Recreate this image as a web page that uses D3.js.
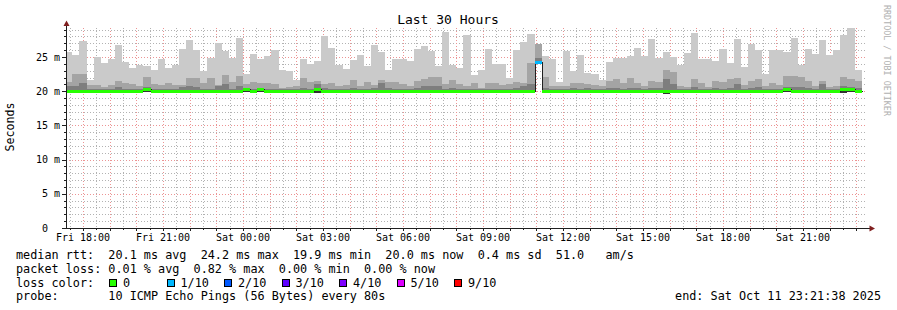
<!DOCTYPE html>
<html><head><meta charset="utf-8">
<script src="https://cdn.jsdelivr.net/npm/d3@7/dist/d3.min.js"></script>
<style>
html,body{margin:0;padding:0;background:#fff;}
svg{display:block;}
text{font-family:"DejaVu Sans Mono",monospace;fill:#000;white-space:pre;}
</style></head><body>
<svg id="chart" width="897" height="310"></svg>
<script>
// ---------------- data ----------------
const title = "Last 30 Hours";
const yAxisTitle = "Seconds";
const watermark = "RRDTOOL / TOBI OETIKER";
const startTime = Date.UTC(2025, 9, 10, 17, 21, 38);   // Fri 17:21:38
const endTime   = Date.UTC(2025, 9, 11, 23, 21, 38);   // Sat 23:21:38
const firstBin  = Date.UTC(2025, 9, 10, 17, 20, 0);    // first 16-minute bin
const binMinutes = 16;
const yMaxMs = 29.24;
const yTickValues = [0, 5, 10, 15, 20, 25];
const yTickLabels = ["0  ", "5 m", "10 m", "15 m", "20 m", "25 m"];
const dayNames = ["Sun","Mon","Tue","Wed","Thu","Fri","Sat"];

// per-bin ping statistics (ms), sorted-ping percentiles
const maxRtt = [25.7,25.25,27.3,21.6,25.05,24.15,24.7,26.75,24.3,23.4,
 23.8,23.7,23.1,24.7,23.4,23.85,26.2,27.5,26.0,23.0,
 24.9,27.1,25.9,24.85,27.8,22.5,25.4,24.7,25.2,26.0,
 23.1,23.0,21.6,24.7,24.0,24.4,28.1,26.3,23.8,23.25,
 24.55,25.3,23.7,26.75,25.75,23.1,24.7,24.7,24.4,26.2,
 26.6,25.9,23.7,28.65,23.8,23.4,28.2,22.35,23.1,26.2,
 24.0,24.0,21.9,26.0,27.2,28.35,null,25.15,24.7,21.3,
 25.9,22.95,25.3,22.65,22.5,21.7,24.25,24.8,24.8,25.15,
 26.3,25.15,27.6,24.8,25.75,25.0,23.8,25.6,28.5,24.7,
 24.7,24.4,26.2,24.15,27.6,23.55,26.9,26.0,22.5,26.0,
 26.0,25.75,27.8,23.8,26.2,25.4,27.5,25.3,26.0,28.2,29.2,23.1];
const ping9 = [21.35,22.5,22.5,20.9,20.9,20.6,20.9,21.5,21.2,21.05,
 20.75,22.05,21.05,20.9,21.2,20.9,20.9,21.9,21.9,21.2,
 21.95,20.9,22.35,21.35,22.2,21.05,21.35,21.2,21.2,21.05,
 20.45,20.6,20.75,21.9,21.35,21.5,21.05,21.2,20.75,20.9,
 21.65,20.75,21.35,20.9,21.65,21.35,21.35,21.05,20.75,21.5,
 21.8,22.05,22.05,21.05,21.65,21.05,20.75,21.2,20.45,21.2,
 21.2,20.9,21.05,21.35,21.2,24.1,26.9,22.05,20.75,20.75,
 20.75,21.2,21.2,21.05,20.9,20.75,21.5,21.8,21.2,21.9,
 21.2,20.75,21.5,21.35,23.1,22.8,20.75,20.6,21.8,21.2,
 20.6,21.5,21.35,21.8,21.9,20.9,21.5,21.8,20.75,21.2,
 20.9,22.2,22.2,22.05,21.5,20.75,21.5,20.6,20.75,22.05,21.8,21.5];
const ping8 = [20.75,20.75,21.2,20.3,20.3,20.3,20.3,20.6,20.3,20.3,
 20.3,20.6,20.3,20.3,20.3,20.3,20.6,20.75,20.6,20.3,
 20.3,20.75,21.05,20.3,20.75,20.3,20.3,20.3,20.3,20.3,
 20.3,20.3,20.3,20.4,20.3,21.0,20.4,20.3,20.3,20.3,
 20.4,20.3,20.3,20.4,21.2,20.4,20.3,20.3,20.3,20.4,
 20.75,20.75,20.75,20.3,20.4,20.3,20.3,20.3,20.3,20.3,
 20.3,20.3,20.3,20.4,20.75,21.0,24.8,20.4,20.3,20.3,
 20.3,20.4,20.3,20.4,20.3,20.3,20.4,20.4,20.3,20.4,
 20.4,20.3,20.4,20.4,21.8,21.05,20.3,20.3,20.6,20.3,
 20.3,20.4,20.3,20.4,21.05,20.3,20.4,20.6,20.3,20.3,
 20.3,20.6,20.6,20.6,20.4,20.3,21.05,20.3,20.3,20.75,20.6,20.4];
const medianRtt = [20.1,20.1,20.1,20.1,20.1,20.1,20.1,20.1,20.1,20.1,
 20.1,20.35,20.1,20.1,20.1,20.1,20.1,20.1,20.1,20.1,
 20.1,20.1,20.1,20.1,20.1,20.35,20.1,20.35,20.1,20.1,
 20.1,20.1,20.1,20.1,20.1,20.35,20.1,20.1,20.1,20.1,
 20.1,20.1,20.1,20.1,20.1,20.1,20.1,20.1,20.1,20.1,
 20.1,20.1,20.1,20.1,20.1,20.1,20.1,20.1,20.1,20.1,
 20.1,20.1,20.1,20.1,20.1,20.1,24.27,20.1,20.1,20.1,
 20.1,20.1,20.1,20.1,20.1,20.1,20.1,20.1,20.1,20.1,
 20.1,20.1,20.1,20.1,20.1,20.1,20.1,20.1,20.1,20.1,
 20.1,20.1,20.1,20.1,20.1,20.1,20.1,20.1,20.1,20.1,
 20.1,20.35,20.1,20.1,20.1,20.1,20.1,20.1,20.1,20.3,20.35,20.1];
const minRtt = [19.95,19.95,19.95,19.95,19.75,19.95,19.75,19.95,19.95,19.95,
 19.95,19.95,19.95,19.95,19.95,19.95,19.95,19.95,19.95,19.95,
 19.95,19.75,19.95,19.95,19.95,19.95,19.95,19.95,19.95,19.95,
 19.95,19.75,19.95,19.95,19.95,19.75,19.95,19.95,19.95,19.95,
 19.95,19.75,19.95,19.95,19.75,19.95,19.95,19.95,19.95,19.95,
 19.95,19.95,19.75,19.95,19.95,19.95,19.95,19.95,19.95,19.95,
 19.95,19.95,19.95,19.75,19.95,19.95,24.1,19.95,19.95,19.95,
 19.95,19.75,19.95,19.75,19.95,19.95,19.95,19.95,19.75,19.95,
 19.75,19.95,19.95,19.95,19.6,19.95,19.95,19.95,19.75,19.95,
 19.75,19.95,19.95,19.95,19.95,19.95,19.95,19.95,19.95,19.95,
 19.95,19.95,19.95,19.95,19.95,19.95,19.75,19.95,19.95,19.75,19.95,19.95];
const lostPings = [0,0,0,0,0,0,0,0,0,0, 0,0,0,0,0,0,0,0,0,0, 0,0,0,0,0,0,0,0,0,0,
 0,0,0,0,0,0,0,0,0,0, 0,0,0,0,0,0,0,0,0,0, 0,0,0,0,0,0,0,0,0,0,
 0,0,0,0,0,0,1,0,0,0, 0,0,0,0,0,0,0,0,0,0, 0,0,0,0,0,0,0,0,0,0,
 0,0,0,0,0,0,0,0,0,0, 0,0,0,0,0,0,0,0,0,0,0,0];

const lossLevels = [0, 1, 2, 3, 4, 5, 9];
const lossLabels = ["0", "1/10", "2/10", "3/10", "4/10", "5/10", "9/10"];
const lossColors = ["#26ff00", "#00b8ff", "#0059ff", "#5e00ff", "#7e00ff", "#dd00ff", "#ff0000"];
const smokeColors = ["#cacaca", "#a4a4a4", "#7e7e7e", "#323232"];

const legendLine1 = "median rtt:  20.1 ms avg  24.2 ms max  19.9 ms min  20.0 ms now  0.4 ms sd  51.0   am/s";
const legendLine2 = "packet loss: 0.01 % avg  0.82 % max  0.00 % min  0.00 % now";
const legendLine3 = "loss color:";
const legendLine4 = "probe:       10 ICMP Echo Pings (56 Bytes) every 80s";
const endLabel = "end: Sat Oct 11 23:21:38 2025";

// ---------------- drawing ----------------
const svg = d3.select("#chart");
const X0 = 66, X1 = 866, Y0 = 228, Y1 = 28;
const x = d3.scaleUtc().domain([startTime, endTime]).range([X0, X1]);
const y = d3.scaleLinear().domain([0, yMaxMs]).range([Y0, Y1]);
const GRID = "#b2b2b2", MGRID = "#ec9494", AXIS = "#1f1f1f", ARROW = "#801f1f";
const py = v => Math.round(y(v)) + 0.5;
const px = t => Math.round(x(t)) + 0.5;

svg.append("rect").attr("width", 897).attr("height", 310).attr("fill", "#fff");

// grid
const grid = svg.append("g").attr("shape-rendering", "crispEdges").attr("stroke-dasharray", "1,2").attr("fill", "none");
d3.range(1, Math.floor(yMaxMs) + 1).forEach(v => {
  grid.append("line").attr("x1", X0).attr("x2", X1).attr("y1", py(v)).attr("y2", py(v))
    .attr("stroke", v % 5 === 0 ? MGRID : GRID);
});
d3.utcMinute.every(30).range(new Date(startTime), new Date(endTime)).forEach(t => {
  const major = t.getUTCMinutes() === 0;
  grid.append("line").attr("x1", px(t)).attr("x2", px(t)).attr("y1", Y1).attr("y2", Y0)
    .attr("stroke", major ? MGRID : GRID);
});

// bins
const bins = maxRtt.map((m, k) => ({
  t0: new Date(firstBin + k * binMinutes * 60000),
  t1: new Date(firstBin + (k + 1) * binMinutes * 60000),
  p10: m, p9: ping9[k], p8: ping8[k], med: medianRtt[k], low: minRtt[k], loss: lostPings[k]
}));

svg.append("clipPath").attr("id", "plotclip").append("rect")
  .attr("x", X0).attr("y", Y1 - 2).attr("width", X1 - X0).attr("height", Y0 - Y1 + 2);
const plot = svg.append("g").attr("clip-path", "url(#plotclip)").attr("shape-rendering", "crispEdges");

const layers = [["p10", 0], ["p9", 1], ["p8", 2], ["med", 3]];
layers.forEach(([key, ci]) => {
  plot.append("g").selectAll("rect").data(bins.filter(b => b[key] != null)).join("rect")
    .attr("x", b => Math.round(x(b.t0)))
    .attr("width", b => Math.round(x(b.t1)) - Math.round(x(b.t0)))
    .attr("y", b => Math.round(y(b[key])))
    .attr("height", b => Math.max(0, Math.round(y(b.low)) - Math.round(y(b[key]))))
    .attr("fill", smokeColors[ci]);
});

// median step line (dark) under the loss-coloured band
const medPts = bins.map(b => [b.t0, b.med]).concat([[bins[bins.length - 1].t1, bins[bins.length - 1].med]]);
plot.append("path")
  .attr("d", d3.line().x(d => Math.round(x(d[0])) + 0.5).y(d => Math.round(y(d[1])) + 0.5).curve(d3.curveStepAfter)(medPts))
  .attr("fill", "none").attr("stroke", "#202020").attr("stroke-width", 1);

function lossColor(n) {
  let c = lossColors[0];
  lossLevels.forEach((lv, i) => { if (n >= lv) c = lossColors[i]; });
  return c;
}
plot.append("g").selectAll("rect").data(bins).join("rect")
  .attr("x", b => Math.round(x(b.t0)))
  .attr("width", b => Math.round(x(b.t1)) - Math.round(x(b.t0)))
  .attr("y", b => Math.round(y(b.med)) - 1.5)
  .attr("height", 3)
  .attr("fill", b => lossColor(b.loss));

// axes
const ax = svg.append("g").attr("shape-rendering", "crispEdges");
ax.append("line").attr("x1", X0 + 0.5).attr("x2", X0 + 0.5).attr("y1", Y0 + 1).attr("y2", 24).attr("stroke", AXIS);
ax.append("line").attr("x1", 62).attr("x2", 870).attr("y1", Y0 + 0.5).attr("y2", Y0 + 0.5).attr("stroke", AXIS);
svg.append("path").attr("d", `M${X0 + 0.5},20.5 L${X0 + 3.5},26 L${X0 - 2.5},26 Z`).attr("fill", ARROW);
svg.append("path").attr("d", `M875,${Y0 + 0.5} L869.5,${Y0 + 3.5} L869.5,${Y0 - 2.5} Z`).attr("fill", ARROW);

// y ticks
d3.range(0, Math.floor(yMaxMs) + 1).forEach(v => {
  const major = v % 5 === 0;
  ax.append("line").attr("x1", major ? 62 : 64).attr("x2", X0).attr("y1", py(v)).attr("y2", py(v)).attr("stroke", AXIS);
});
svg.append("g").selectAll("text").data(yTickValues).join("text")
  .attr("xml:space", "preserve")
  .attr("x", 60).attr("y", v => y(v) + 3.5)
  .attr("text-anchor", "end").attr("font-size", "10px")
  .text((v, i) => yTickLabels[i]);

// x ticks
d3.utcMinute.every(30).range(new Date(startTime), new Date(endTime)).forEach(t => {
  const major = t.getUTCMinutes() === 0;
  ax.append("line").attr("x1", px(t)).attr("x2", px(t)).attr("y1", Y0).attr("y2", Y0 + (major ? 3 : 2)).attr("stroke", AXIS);
});
const xLabelTicks = d3.utcHour.every(3).range(new Date(startTime), new Date(endTime));
svg.append("g").selectAll("text").data(xLabelTicks).join("text")
  .attr("x", t => x(t)).attr("y", 241).attr("text-anchor", "middle").attr("font-size", "10px")
  .text(t => dayNames[t.getUTCDay()] + " " + d3.utcFormat("%H:%M")(t));

// titles
svg.append("text").attr("x", 448).attr("y", 24).attr("text-anchor", "middle").attr("font-size", "13px").text(title);
svg.append("text").attr("transform", "translate(14,127) rotate(-90)").attr("text-anchor", "middle")
  .attr("font-size", "11.6px").text(yAxisTitle);
svg.append("text").attr("transform", "translate(884,5) rotate(90)").attr("text-anchor", "start")
  .attr("font-size", "8.4px").style("fill", "#b0b0b0").text(watermark);

// legend
const lg = svg.append("g").attr("font-size", "11.8px");
const addLine = (s, xx, yy, anchor) => lg.append("text").attr("xml:space", "preserve")
  .attr("x", xx).attr("y", yy).attr("text-anchor", anchor || "start").text(s);
addLine(legendLine1, 16, 259);
addLine(legendLine2, 16, 272.5);
addLine(legendLine3, 16, 286.5);
addLine(legendLine4, 16, 300);
addLine(endLabel, 881, 300, "end");
const items = lg.append("g").selectAll("g").data(lossLabels).join("g")
  .attr("transform", (d, i) => `translate(${109 + i * 57.5},0)`);
items.append("rect").attr("x", 0.5).attr("y", 279.5).attr("width", 7).attr("height", 7)
  .attr("fill", (d, i) => lossColors[i]).attr("stroke", "#000").attr("stroke-width", 1)
  .attr("shape-rendering", "crispEdges");
items.append("text").attr("x", 14).attr("y", 286.5).text(d => d);
</script>
</body></html>
